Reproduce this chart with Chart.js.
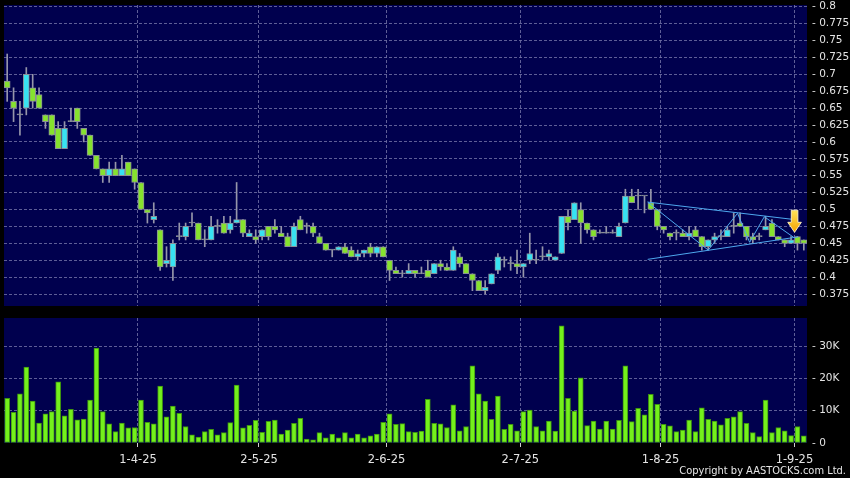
<!DOCTYPE html>
<html>
<head>
<meta charset="utf-8">
<script src="https://cdn.jsdelivr.net/npm/chart.js@4.4.1/dist/chart.umd.min.js"></script>
<style>
  html, body { margin: 0; padding: 0; background: #000; }
  #wrap { position: relative; width: 850px; height: 478px; overflow: hidden; background: #000; }
  #priceChart { position: absolute; left: 0; top: 0; }
  #volChart { position: absolute; left: 0; top: 312px; }
  #copy { position: absolute; right: 4px; top: 464px; color: #e6e6e6; font: 11px "DejaVu Sans Condensed", "DejaVu Sans", sans-serif; white-space: nowrap; }
</style>
</head>
<body>
<div id="wrap">
  <canvas id="priceChart" width="850" height="312"></canvas>
  <canvas id="volChart" width="850" height="166"></canvas>
  <div id="copy">Copyright by AASTOCKS.com Ltd.</div>
</div>
<script>
// trading days per month (2025), used for the category labels
const monthDays = [
  [3, [3, 4, 5, 6, 7, 10, 11, 12, 13, 14, 17, 18, 19, 20, 21, 24, 25, 26, 27, 28, 31]],
  [4, [1, 2, 3, 7, 8, 9, 10, 11, 14, 15, 16, 17, 22, 23, 24, 25, 28, 29, 30]],
  [5, [2, 6, 7, 8, 9, 12, 13, 14, 15, 16, 19, 20, 21, 22, 23, 26, 27, 28, 29, 30]],
  [6, [2, 3, 4, 5, 6, 9, 10, 11, 12, 13, 16, 17, 18, 19, 20, 23, 24, 25, 26, 27, 30]],
  [7, [2, 3, 4, 7, 8, 9, 10, 11, 14, 15, 16, 17, 18, 21, 22, 23, 24, 25, 28, 29, 30, 31]],
  [8, [1, 4, 5, 6, 7, 8, 11, 12, 13, 14, 15, 18, 19, 20, 21, 22, 25, 26, 27, 28, 29]],
  [9, [1, 2]]
];
const tickLabels = ["1-4-25", "2-5-25", "2-6-25", "2-7-25", "1-8-25", "1-9-25"];
const priceTicks = [0.375, 0.4, 0.425, 0.45, 0.475, 0.5, 0.525, 0.55, 0.575, 0.6, 0.625, 0.65, 0.675, 0.7, 0.725, 0.75, 0.775, 0.8];
const volTicks = [0, 10000, 20000, 30000];

const opens = [
  0.69, 0.66, 0.64, 0.65, 0.68, 0.67, 0.64, 0.64, 0.62, 0.59, 0.63, 0.65, 0.62, 0.61, 0.58, 0.56, 0.55, 0.56, 0.55, 0.57, 0.56,
  0.54, 0.50, 0.485, 0.47, 0.42, 0.415, 0.46, 0.46, 0.48, 0.48, 0.455, 0.455, 0.475, 0.48, 0.47, 0.48, 0.485, 0.46, 0.46, 0.46, 0.475,
  0.475, 0.465, 0.46, 0.445, 0.485, 0.475, 0.475, 0.46, 0.45, 0.44, 0.44, 0.445, 0.44, 0.43, 0.435, 0.445, 0.435, 0.445, 0.425, 0.41, 0.405,
  0.405, 0.41, 0.405, 0.41, 0.405, 0.42, 0.415, 0.41, 0.43, 0.42, 0.405, 0.395, 0.38, 0.39, 0.41, 0.425, 0.42, 0.42, 0.415, 0.425, 0.425,
  0.43, 0.43, 0.425, 0.435, 0.49, 0.485, 0.50, 0.48, 0.47, 0.465, 0.465, 0.465, 0.46, 0.48, 0.52, 0.52, 0.52, 0.51, 0.50, 0.475, 0.465,
  0.465, 0.465, 0.46, 0.47, 0.46, 0.445, 0.455, 0.46, 0.46, 0.475, 0.48, 0.475, 0.46, 0.46, 0.47, 0.48, 0.46, 0.455, 0.45, 0.46, 0.455
];
const highs = [
  0.73, 0.68, 0.66, 0.71, 0.70, 0.68, 0.64, 0.64, 0.63, 0.63, 0.65, 0.65, 0.62, 0.61, 0.58, 0.56, 0.57, 0.57, 0.58, 0.57, 0.56,
  0.54, 0.50, 0.51, 0.47, 0.445, 0.455, 0.48, 0.48, 0.495, 0.48, 0.47, 0.49, 0.485, 0.49, 0.49, 0.54, 0.485, 0.47, 0.47, 0.47, 0.475,
  0.485, 0.475, 0.465, 0.48, 0.49, 0.48, 0.48, 0.465, 0.45, 0.44, 0.445, 0.45, 0.445, 0.44, 0.44, 0.45, 0.445, 0.445, 0.425, 0.415, 0.41,
  0.42, 0.41, 0.415, 0.425, 0.42, 0.425, 0.42, 0.445, 0.435, 0.42, 0.405, 0.395, 0.395, 0.405, 0.435, 0.43, 0.43, 0.44, 0.42, 0.465, 0.44,
  0.445, 0.44, 0.43, 0.49, 0.50, 0.51, 0.51, 0.48, 0.47, 0.47, 0.475, 0.47, 0.48, 0.53, 0.53, 0.53, 0.52, 0.53, 0.50, 0.475, 0.465,
  0.47, 0.47, 0.475, 0.475, 0.46, 0.455, 0.465, 0.47, 0.475, 0.495, 0.495, 0.475, 0.465, 0.465, 0.49, 0.485, 0.46, 0.455, 0.46, 0.46, 0.455
];
const lows = [
  0.66, 0.63, 0.61, 0.64, 0.65, 0.65, 0.62, 0.61, 0.59, 0.59, 0.63, 0.62, 0.60, 0.58, 0.56, 0.54, 0.54, 0.55, 0.55, 0.55, 0.53,
  0.50, 0.48, 0.48, 0.41, 0.415, 0.395, 0.455, 0.455, 0.475, 0.455, 0.445, 0.455, 0.465, 0.465, 0.465, 0.48, 0.46, 0.46, 0.45, 0.455, 0.455,
  0.465, 0.46, 0.445, 0.445, 0.47, 0.465, 0.46, 0.45, 0.44, 0.43, 0.44, 0.435, 0.43, 0.425, 0.43, 0.43, 0.43, 0.43, 0.395, 0.405, 0.40,
  0.405, 0.40, 0.405, 0.40, 0.405, 0.41, 0.41, 0.41, 0.415, 0.405, 0.38, 0.38, 0.375, 0.39, 0.405, 0.415, 0.41, 0.405, 0.40, 0.42, 0.42,
  0.425, 0.425, 0.425, 0.435, 0.47, 0.485, 0.45, 0.465, 0.455, 0.465, 0.465, 0.465, 0.46, 0.48, 0.51, 0.50, 0.495, 0.50, 0.47, 0.465, 0.455,
  0.455, 0.46, 0.455, 0.46, 0.44, 0.44, 0.45, 0.455, 0.46, 0.465, 0.475, 0.455, 0.45, 0.455, 0.47, 0.46, 0.455, 0.445, 0.45, 0.44, 0.44
];
const closes = [
  0.68, 0.65, 0.64, 0.70, 0.66, 0.65, 0.63, 0.61, 0.59, 0.62, 0.63, 0.63, 0.61, 0.58, 0.56, 0.55, 0.56, 0.55, 0.56, 0.55, 0.54,
  0.50, 0.495, 0.49, 0.415, 0.425, 0.45, 0.46, 0.475, 0.48, 0.455, 0.455, 0.475, 0.475, 0.465, 0.48, 0.485, 0.465, 0.465, 0.455, 0.47, 0.46,
  0.47, 0.46, 0.445, 0.475, 0.47, 0.475, 0.465, 0.45, 0.44, 0.44, 0.445, 0.435, 0.43, 0.435, 0.44, 0.435, 0.445, 0.43, 0.41, 0.405, 0.405,
  0.41, 0.405, 0.405, 0.40, 0.42, 0.415, 0.41, 0.44, 0.42, 0.405, 0.395, 0.38, 0.385, 0.405, 0.43, 0.425, 0.42, 0.415, 0.42, 0.435, 0.425,
  0.43, 0.435, 0.43, 0.49, 0.48, 0.51, 0.48, 0.47, 0.46, 0.465, 0.465, 0.465, 0.475, 0.52, 0.51, 0.52, 0.52, 0.50, 0.475, 0.47, 0.46,
  0.465, 0.46, 0.465, 0.46, 0.445, 0.455, 0.46, 0.46, 0.47, 0.475, 0.475, 0.46, 0.455, 0.46, 0.475, 0.46, 0.455, 0.45, 0.455, 0.45, 0.45
];
const volumes = [
  13800, 9500, 15200, 23500, 13000, 6200, 9000, 9700, 18900, 8400, 10400, 7200, 7400, 13300, 29400, 9700, 5900, 3500, 6200, 4700, 4800,
  13300, 6400, 5900, 17600, 8100, 11400, 9200, 5100, 2500, 1800, 3500, 4200, 2500, 3200, 6300, 17900, 4700, 5500, 7000, 3300, 6700,
  7100, 2800, 4000, 6100, 7600, 1200, 1000, 3200, 1600, 2800, 1600, 3200, 1600, 2800, 1600, 2200, 2800, 6400, 9000, 5800, 6000,
  3500, 3300, 3700, 13500, 6100, 5900, 4800, 11800, 3800, 5100, 23900, 15200, 13000, 7300, 14500, 4200, 5800, 3800, 9700, 10200, 5100,
  3800, 6800, 3700, 36300, 13800, 9900, 20200, 5400, 6800, 4300, 6800, 4300, 7000, 23900, 6600, 10700, 8700, 15100, 12000, 5800, 5300,
  3500, 4000, 7100, 3500, 10900, 7300, 6800, 5600, 7600, 8100, 9700, 6100, 3200, 2000, 13300, 3200, 4800, 3800, 2300, 5100, 2200
];

// drawn triangle pattern: [bar index, price]
const upperLine = [[100.5, 0.511], [124.1, 0.4845]];
const lowerLine = [[100.5, 0.4263], [124.1, 0.4595]];
const zigzag = [[100.5, 0.511], [110.0, 0.440], [114.6, 0.4944], [116.5, 0.4515], [118.8, 0.4893], [123.4, 0.4589]];
// yellow marker arrow: [bar index, top price, tip price]
const arrowAt = [123.55, 0.499, 0.4663];

const dates = [];
monthDays.forEach(([m, days]) => days.forEach(d => dates.push(d + "-" + m + "-25")));

const NAVY = "#00004e";
const GRID = "rgba(110,110,165,0.85)";
const TXT = "#e4e4e4";
const UP = "#38e2f2";
const DOWN = "#86e22e";
const EDGE = "#8a8f98";
const WICK = "#9696aa";
const TREND = "#4ea8ee";

const panelBg = {
  id: "panelBg",
  beforeDraw(chart) {
    const { ctx, chartArea: a } = chart;
    ctx.save();
    ctx.fillStyle = "#000";
    ctx.fillRect(0, 0, chart.width, chart.height);
    ctx.fillStyle = NAVY;
    ctx.fillRect(a.left, a.top, a.right - a.left, a.bottom - a.top);
    ctx.restore();
  }
};

const arrowMark = {
  id: "arrowMark",
  afterDatasetsDraw(chart) {
    const { ctx } = chart;
    const xs = chart.scales.xl, ys = chart.scales.y;
    const cx = xs.getPixelForValue(arrowAt[0]);
    const top = ys.getPixelForValue(arrowAt[1]);
    const tip = ys.getPixelForValue(arrowAt[2]);
    const neck = tip - 10;
    ctx.save();
    const g = ctx.createLinearGradient(0, top, 0, tip);
    g.addColorStop(0, "#ffe45a");
    g.addColorStop(1, "#f5a300");
    ctx.beginPath();
    ctx.moveTo(cx - 3.3, top);
    ctx.lineTo(cx + 3.3, top);
    ctx.lineTo(cx + 3.3, neck);
    ctx.lineTo(cx + 6.8, neck);
    ctx.lineTo(cx, tip);
    ctx.lineTo(cx - 6.8, neck);
    ctx.lineTo(cx - 3.3, neck);
    ctx.closePath();
    ctx.fillStyle = g;
    ctx.fill();
    ctx.strokeStyle = "rgba(255,245,200,0.9)";
    ctx.lineWidth = 1;
    ctx.stroke();
    ctx.restore();
  }
};

// keep the plot box where the layout padding puts it
const noLabelPad = (s, w) => { s.width = w; s.paddingTop = 0; s.paddingBottom = 0; };

const isTickDate = (i) => tickLabels.includes(dates[i]);
const bodyColor = (i) => closes[i] > opens[i] ? UP : (closes[i] < opens[i] ? DOWN : EDGE);
const toXY = (pts) => pts.map(([x, y]) => ({ x, y }));
const lineSet = (pts) => ({
  type: "line", xAxisID: "xl", yAxisID: "y", data: toXY(pts),
  borderColor: TREND, borderWidth: 1, pointRadius: 0, tension: 0, order: 0
});

new Chart(document.getElementById("priceChart").getContext("2d"), {
  type: "bar",
  data: {
    labels: dates,
    datasets: [
      {
        data: lows.map((l, i) => [l, highs[i]]),
        backgroundColor: WICK, barThickness: 1, grouped: false, order: 2
      },
      {
        data: opens.map((o, i) => [o, closes[i]]),
        backgroundColor: (ctx) => bodyColor(ctx.dataIndex),
        borderColor: EDGE, borderWidth: 1, borderSkipped: false,
        barThickness: 6, minBarLength: 1, grouped: false, order: 1
      },
      lineSet(upperLine),
      lineSet(lowerLine),
      lineSet(zigzag)
    ]
  },
  options: {
    responsive: false,
    animation: false,
    events: [],
    layout: { padding: { left: 4, top: 5, right: 0, bottom: 6 } },
    plugins: { legend: { display: false }, tooltip: { enabled: false } },
    scales: {
      x: {
        type: "category",
        offset: true,
        grid: {
          offset: true, drawTicks: false,
          color: (ctx) => isTickDate(ctx.index) ? GRID : "transparent"
        },
        border: { display: false, dash: [3, 2] },
        ticks: { display: false, autoSkip: false },
        afterFit: (s) => { s.height = 0; }
      },
      xl: { type: "linear", display: false, offset: false, min: -0.5, max: 125.5 },
      y: {
        position: "right",
        min: 0.3573,
        max: 0.8025,
        afterBuildTicks: (s) => { s.ticks = priceTicks.map(v => ({ value: v })); },
        afterFit: (s) => noLabelPad(s, 43),
        grid: { color: GRID, drawTicks: false },
        border: { display: false, dash: [3, 2] },
        ticks: {
          color: TXT, padding: 5,
          font: { family: "DejaVu Sans", size: 10.5, lineHeight: 1 },
          callback: (v) => "- " + v
        }
      }
    }
  },
  plugins: [panelBg, arrowMark]
});

new Chart(document.getElementById("volChart").getContext("2d"), {
  type: "bar",
  data: {
    labels: dates,
    datasets: [{
      data: volumes,
      backgroundColor: "#74f01c",
      borderColor: "#3e9410",
      borderWidth: 1,
      borderSkipped: false,
      barThickness: 5
    }]
  },
  options: {
    responsive: false,
    animation: false,
    events: [],
    layout: { padding: { left: 4, top: 6, right: 0, bottom: 0 } },
    plugins: { legend: { display: false }, tooltip: { enabled: false } },
    scales: {
      x: {
        type: "category",
        offset: true,
        grid: {
          offset: true, drawTicks: true, tickLength: 4,
          color: (ctx) => isTickDate(ctx.index) ? GRID : "transparent",
          tickColor: (ctx) => isTickDate(ctx.index) ? "#cfcfcf" : "transparent"
        },
        border: { display: false, dash: [3, 2] },
        ticks: {
          color: TXT, autoSkip: false, maxRotation: 0, minRotation: 0, padding: 6, labelOffset: -3,
          font: { family: "DejaVu Sans", size: 11.5 },
          callback: (v, i) => isTickDate(i) ? dates[i] : ""
        },
        afterFit: (s) => { s.height = 35; }
      },
      y: {
        position: "right",
        min: 0,
        max: 38700,
        afterBuildTicks: (s) => { s.ticks = volTicks.map(v => ({ value: v })); },
        afterFit: (s) => noLabelPad(s, 43),
        grid: { color: (ctx) => ctx.tick && ctx.tick.value === 0 ? "transparent" : GRID, drawTicks: false },
        border: { display: false, dash: [3, 2] },
        ticks: {
          color: TXT, padding: 5,
          font: { family: "DejaVu Sans", size: 10.5, lineHeight: 1 },
          callback: (v) => "- " + (v === 0 ? "0" : (v / 1000) + "K")
        }
      }
    }
  },
  plugins: [panelBg]
});
</script>
</body>
</html>
